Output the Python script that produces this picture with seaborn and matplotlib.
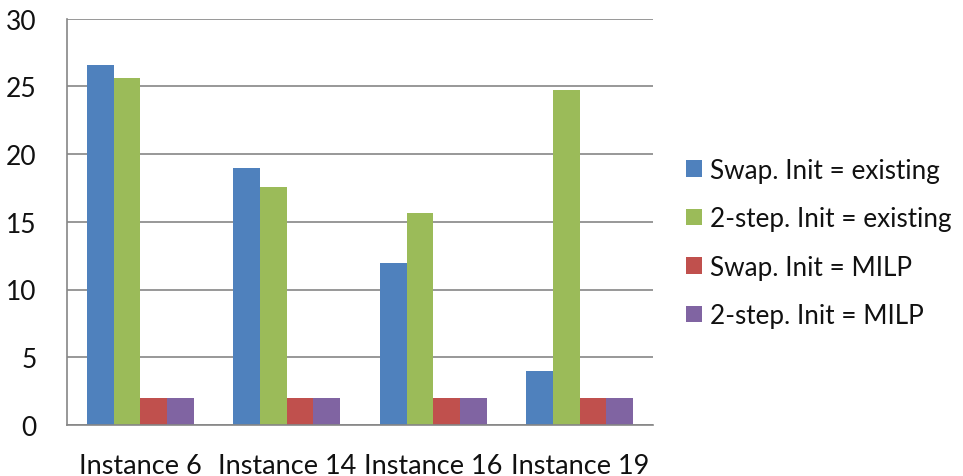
import matplotlib
matplotlib.use("Agg")
import matplotlib.pyplot as plt
import seaborn as sns
import pandas as pd
from matplotlib.patches import Patch

instances = ["Instance 6", "Instance 14", "Instance 16", "Instance 19"]
series = ["Swap. Init = existing", "2-step. Init = existing",
          "Swap. Init = MILP", "2-step. Init = MILP"]
swap_existing = [26.6, 18.95, 11.95, 3.95]
twostep_existing = [25.6, 17.6, 15.65, 24.7]
swap_milp = [2, 2, 2, 2]
twostep_milp = [2, 2, 2, 2]
colors = ["#4F81BD", "#9BBB59", "#C0504D", "#8064A2"]
yticks = [0, 5, 10, 15, 20, 25, 30]

values = [swap_existing, twostep_existing, swap_milp, twostep_milp]
df = pd.DataFrame({
    "instance": [inst for vals in values for inst in instances],
    "series": [s for s, vals in zip(series, values) for _ in vals],
    "value": [v for vals in values for v in vals],
})

sns.set_style("white")
plt.rcParams["font.family"] = ["Lato", "DejaVu Sans"]

fig = plt.figure(figsize=(9.63, 4.77), dpi=100)
ax = fig.add_axes([67 / 963, 1 - 426 / 477, (653 - 67) / 963, (426 - 19.5) / 477])

sns.barplot(data=df, x="instance", y="value", hue="series", order=instances,
            hue_order=series, palette=colors, width=0.73, linewidth=0,
            saturation=1, ax=ax, legend=False)

grid_c = "#868686"
text_c = "#111111"
ax.set_ylim(0, 30)
ax.set_xlim(-0.5, 3.5)
ax.set_yticks(yticks)
ax.set_yticklabels([str(t) for t in yticks], fontsize=19, color=text_c)
ax.yaxis.grid(True, color=grid_c, linewidth=1.2)
ax.set_axisbelow(True)
ax.set_xlabel("")
ax.set_ylabel("")
for side in ("top", "right"):
    ax.spines[side].set_visible(False)
for side in ("left", "bottom"):
    ax.spines[side].set_color(grid_c)
    ax.spines[side].set_linewidth(1.2)
ax.tick_params(axis="y", length=10, width=1.2, color=grid_c, pad=12)
ax.tick_params(axis="x", which="major", length=0, labelsize=19.5, pad=20,
               labelcolor=text_c)
ax.set_xticks([-0.5, 0.5, 1.5, 2.5, 3.5], minor=True)
ax.tick_params(axis="x", which="minor", length=10, width=1.2, color=grid_c)

handles = [Patch(facecolor=c, edgecolor="none") for c in colors]
fig.legend(handles, series, loc="center left", bbox_to_anchor=(686 / 963, 1 - 244 / 477),
           frameon=False, fontsize=18.8, handlelength=0.6, handleheight=0.6,
           handletextpad=0.3, labelspacing=0.9, labelcolor=text_c,
           borderpad=0, borderaxespad=0)

fig.savefig("out.png", dpi=100)
